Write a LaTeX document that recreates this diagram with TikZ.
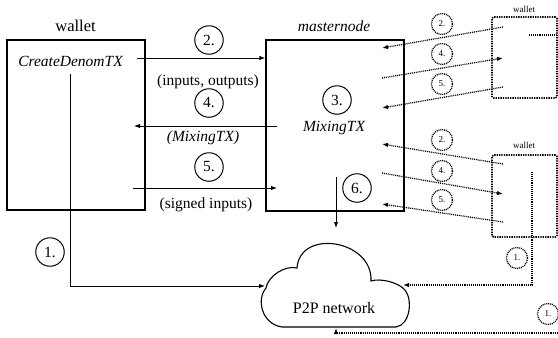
\documentclass[tikz,border=0pt]{standalone}
\usepackage{fontspec}
\setmainfont{Liberation Serif}
\usetikzlibrary{arrows.meta}
\begin{document}
\begin{tikzpicture}[x=1pt,y=-1pt,
  box/.style={draw, line width=1.2pt, inner sep=0pt},
  dbox/.style={draw, line width=1.6pt, dash pattern=on 1.3pt off 1.1pt, rounded corners=1.5pt, inner sep=0pt},
  lbl/.style={font=\fontsize{15.5}{18}\selectfont, inner sep=0pt, anchor=base},
  slbl/.style={font=\fontsize{9}{10}\selectfont, inner sep=0pt, anchor=base},
  num/.style={draw, circle, line width=1pt, minimum size=28.5pt, inner sep=0pt, font=\fontsize{15.5}{18}\selectfont},
  snum/.style={draw, circle, line width=1.3pt, dash pattern=on 1pt off 0.9pt, minimum size=21pt, inner sep=0pt, font=\fontsize{9}{10}\selectfont},
  arr/.style={line width=0.9pt, -{Latex[length=6pt,width=4.5pt]}},
  dline/.style={line width=1.25pt, dash pattern=on 1pt off 0.9pt},
  darr/.style={dline, -{Latex[length=6pt,width=4.5pt]}},
  cloudline/.style={draw, line width=1.1pt}
]
\useasboundingbox (0,0) rectangle (558,338);

% main boxes
\node[box, minimum width=138pt, minimum height=170pt] (wbox) at (76,125) {};
\node[box, minimum width=138pt, minimum height=171pt] (mbox) at (335,125.5) {};
\node[lbl, font=\fontsize{16.5}{19}\selectfont] (wlab) at (75.5,31.5) {wallet};
\node[lbl] (mlab) at (334,31) {\itshape masternode};
\node[lbl] (cdtx) at (70.5,66) {\itshape CreateDenomTX};
\node[lbl] (mixtx) at (334,131) {\itshape MixingTX};

% numbered circles
\node[num] (n1) at (50,252) {1.};
\node[num] (n2) at (209,40) {2.};
\node[num] (n4) at (209,103) {4.};
\node[num] (n5) at (209,167) {5.};
\node[num] (n3) at (337,100) {3.};
\node[num] (n6) at (357,188) {6.};

% labels between boxes
\node[lbl] (io) at (208,85) {(inputs, outputs)};
\node[lbl] (mx) at (203,141) {\itshape (MixingTX)};
\node[lbl] (si) at (206,208) {(signed inputs)};

% cloud
\draw[cloudline] (282,327) -- (396,327)
  .. controls (410,325) and (413,300) .. (405,290)
  .. controls (398,282) and (380,278) .. (371,281)
  .. controls (373,240) and (300,228) .. (297,268)
  .. controls (285,265) and (268,276) .. (266,288)
  .. controls (256,300) and (262,324) .. (282,327) -- cycle;
\node[lbl, font=\fontsize{16}{19}\selectfont] (p2p) at (334,313) {P2P network};
\coordinate (cL) at (265,286);
\coordinate (cR) at (403,285);
\coordinate (cB) at (336,328);

% solid arrows
\coordinate (a1s) at (70,74);
\draw[arr] (a1s) |- (cL);
\coordinate (a2s) at (137,58);
\draw[arr] (a2s) -- (a2s -| mbox.west);
\coordinate (a4s) at (277,126);
\coordinate (a4e) at (134,126);
\draw[arr] (a4s) -- (a4e);
\coordinate (a5s) at (133,188);
\coordinate (a5e) at (277,188);
\draw[arr] (a5s) -- (a5e);
\coordinate (a6s) at (336,177);
\coordinate (a6e) at (336,228);
\draw[arr] (a6s) -- (a6e);

% remote wallets
\node[dbox, minimum width=65pt, minimum height=81pt] (w1) at (524.5,57.5) {};
\node[dbox, minimum width=65pt, minimum height=82pt] (w2) at (524.5,196) {};
\node[slbl] (w1lab) at (524,12) {wallet};
\node[slbl] (w2lab) at (524,148) {wallet};

\node[snum] (s2a) at (442,24) {2.};
\node[snum] (s4a) at (442,54) {4.};
\node[snum] (s5a) at (442,84) {5.};
\node[snum] (s2b) at (442,140) {2.};
\node[snum] (s4b) at (442,171) {4.};
\node[snum] (s5b) at (442,200) {5.};
\node[snum] (s1b) at (517,258) {1.};
\node[snum] (s1a) at (548,314) {1.};

% dotted arrows wallet 1
\coordinate (p2a) at (503,27);  \coordinate (q2a) at (382,48);
\coordinate (q4a) at (382,78);  \coordinate (p4a) at (503,58);
\coordinate (p5a) at (503,87);  \coordinate (q5a) at (382,108);
\draw[darr] (p2a) -- (q2a);
\draw[darr] (q4a) -- (p4a);
\draw[darr] (p5a) -- (q5a);
% dotted arrows wallet 2
\coordinate (p2b) at (503,164); \coordinate (q2b) at (382,144);
\coordinate (q4b) at (382,173); \coordinate (p4b) at (503,194);
\coordinate (p5b) at (503,222); \coordinate (q5b) at (382,204);
\draw[darr] (p2b) -- (q2b);
\draw[darr] (q4b) -- (p4b);
\draw[darr] (p5b) -- (q5b);

% wallet links to the P2P network
\coordinate (w1in) at (529,35);
\draw[dline] (w1in) -- (w1in -| w1.east);
\coordinate (w2in) at (532,172);
\draw[darr] (w2in) |- (cR);
\coordinate (rb) at (560,333);
\draw[darr] (rb) -| (cB);
\end{tikzpicture}
\end{document}
